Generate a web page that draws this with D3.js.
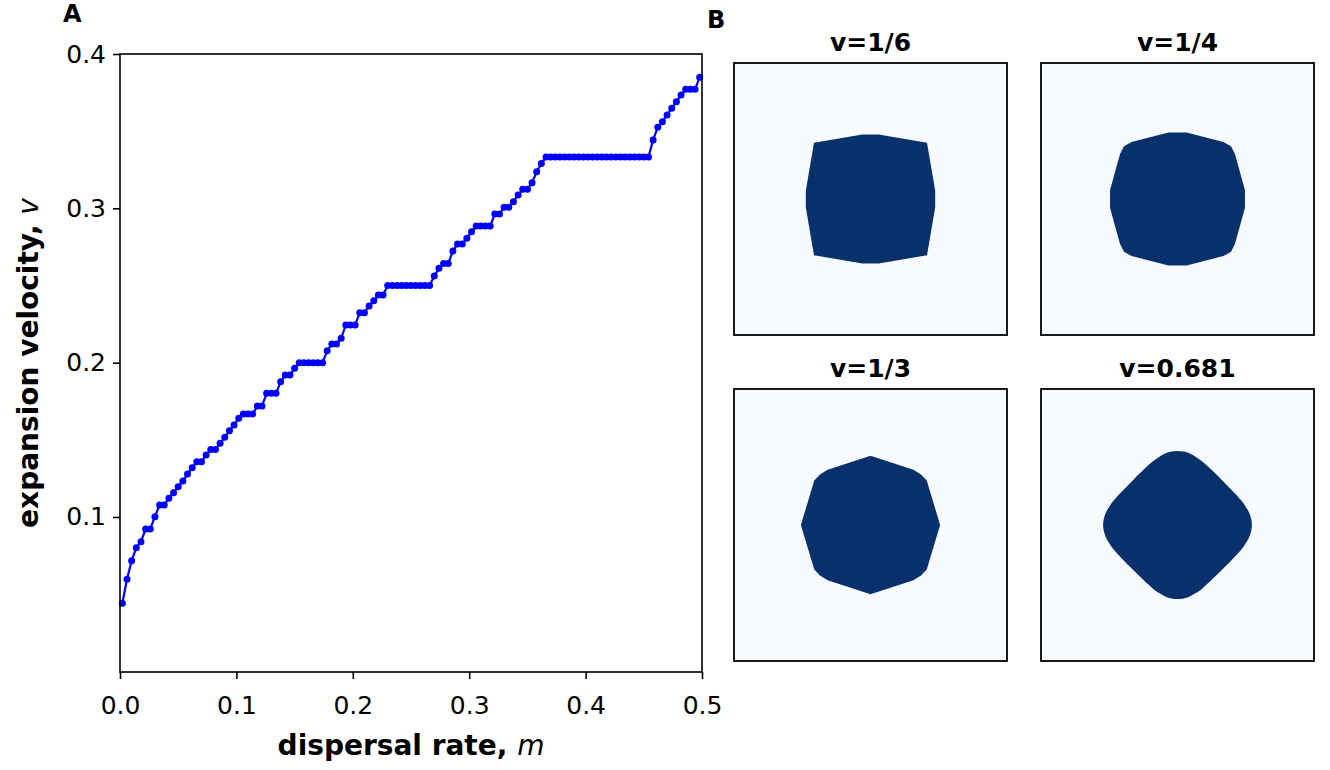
<!DOCTYPE html>
<html>
<head>
<meta charset="utf-8">
<script src="https://cdn.jsdelivr.net/npm/d3@7"></script>
<style>
  body { margin: 0; background: #fff; }
  svg { display: block; font-family: "DejaVu Sans", sans-serif; }
</style>
</head>
<body>
<svg id="chart" width="1330" height="770"></svg>
<script>
// ---------------- data ----------------
const dispersalRate = [0.002,0.006,0.010,0.014,0.018,0.022,0.026,0.030,0.034,0.038,0.042,0.046,0.050,0.054,0.058,0.062,0.066,0.070,0.074,0.078,0.082,0.086,0.090,0.094,0.098,0.102,0.106,0.110,0.114,0.118,0.122,0.126,0.130,0.134,0.138,0.142,0.146,0.150,0.154,0.158,0.162,0.166,0.170,0.174,0.178,0.182,0.186,0.190,0.194,0.198,0.202,0.206,0.210,0.214,0.218,0.222,0.226,0.230,0.234,0.238,0.242,0.246,0.250,0.254,0.258,0.262,0.266,0.270,0.274,0.278,0.282,0.286,0.290,0.294,0.298,0.302,0.306,0.310,0.314,0.318,0.322,0.326,0.330,0.334,0.338,0.342,0.346,0.350,0.354,0.358,0.362,0.366,0.370,0.374,0.378,0.382,0.386,0.390,0.394,0.398,0.402,0.406,0.410,0.414,0.418,0.422,0.426,0.430,0.434,0.438,0.442,0.446,0.450,0.454,0.458,0.462,0.466,0.470,0.474,0.478,0.482,0.486,0.490,0.494,0.498];
const velocity = [0.0441,0.0596,0.0717,0.0801,0.0840,0.0922,0.0922,0.1002,0.1078,0.1078,
  0.1121,0.1157,0.1196,0.1233,0.1278,0.1319,0.1358,0.1358,0.1402,0.1438,
  0.1438,0.1477,0.1516,0.1559,0.1596,0.1640,0.1667,0.1667,0.1667,0.1719,
  0.1719,0.1801,0.1801,0.1801,0.1876,0.1920,0.1920,0.1963,0.2000,0.2000,
  0.2000,0.2000,0.2000,0.2000,0.2077,0.2121,0.2121,0.2158,0.2244,0.2244,
  0.2244,0.2324,0.2324,0.2367,0.2401,0.2438,0.2438,0.2500,0.2500,0.2500,
  0.2500,0.2500,0.2500,0.2500,0.2500,0.2500,0.2500,0.2561,0.2611,0.2643,
  0.2643,0.2723,0.2769,0.2769,0.2806,0.2848,0.2885,0.2885,0.2885,0.2885,
  0.2963,0.2963,0.3007,0.3007,0.3043,0.3086,0.3123,0.3123,0.3166,0.3237,
  0.3290,0.3333,0.3333,0.3333,0.3333,0.3333,0.3333,0.3333,0.3333,0.3333,
  0.3333,0.3333,0.3333,0.3333,0.3333,0.3333,0.3333,0.3333,0.3333,0.3333,
  0.3333,0.3333,0.3333,0.3333,0.3443,0.3525,0.3561,0.3605,0.3648,0.3691,
  0.3734,0.3771,0.3771,0.3771,0.3849];
const xTicks = [0.0,0.1,0.2,0.3,0.4,0.5];
const yTicks = [0.1,0.2,0.3,0.4];

// Panel B: front shapes, vertices in box units (box spans -1..1)
const panelTitles = ["v=1/6","v=1/4","v=1/3","v=0.681"];
const shapeV16 = [[-0.414,-0.414],[-0.06,-0.474],[0.06,-0.474],[0.414,-0.414],[0.474,-0.06],[0.474,0.06],[0.414,0.414],[0.06,0.474],[-0.06,0.474],[-0.414,0.414],[-0.474,0.06],[-0.474,-0.06]];
const shapeV14 = [[-0.067,-0.489],[0.067,-0.489],[0.336,-0.42],[0.392,-0.388],[0.421,-0.33],[0.494,-0.067],[0.494,0.067],[0.421,0.33],[0.392,0.388],[0.336,0.42],[0.067,0.489],[-0.067,0.489],[-0.336,0.42],[-0.392,0.388],[-0.421,0.33],[-0.494,0.067],[-0.494,-0.067],[-0.421,-0.33],[-0.392,-0.388],[-0.336,-0.42]];
const shapeV13 = [[0,-0.51],[0.314,-0.406],[0.37,-0.372],[0.412,-0.328],[0.51,0],[0.412,0.328],[0.37,0.372],[0.314,0.406],[0,0.51],[-0.314,0.406],[-0.37,0.372],[-0.412,0.328],[-0.51,0],[-0.412,-0.328],[-0.37,-0.372],[-0.314,-0.406]];
const shapeV0681 = [
  [0,-0.545],[0.045,-0.54],[0.09,-0.525],[0.135,-0.5],[0.18,-0.468],[0.328,-0.328],[0.468,-0.18],[0.5,-0.135],[0.525,-0.09],[0.54,-0.045],
  [0.545,0],[0.54,0.045],[0.525,0.09],[0.5,0.135],[0.468,0.18],[0.328,0.328],[0.18,0.468],[0.135,0.5],[0.09,0.525],[0.045,0.54],
  [0,0.545],[-0.045,0.54],[-0.09,0.525],[-0.135,0.5],[-0.18,0.468],[-0.328,0.328],[-0.468,0.18],[-0.5,0.135],[-0.525,0.09],[-0.54,0.045],
  [-0.545,0],[-0.54,-0.045],[-0.525,-0.09],[-0.5,-0.135],[-0.468,-0.18],[-0.328,-0.328],[-0.18,-0.468],[-0.135,-0.5],[-0.09,-0.525],[-0.045,-0.54]];
const shapeSmooth = [false,false,false,true];

// ---------------- panel A ----------------
const svg = d3.select("#chart");
const A = {left:120, right:702, top:54, bottom:672};
const x = d3.scaleLinear().domain([0,0.5]).range([A.left, A.right]);
const y = d3.scaleLinear().domain([0,0.4]).range([671.3, A.top]);

const gA = svg.append("g");
const xAxis = gA.append("g").attr("transform",`translate(0,${A.bottom})`)
  .call(d3.axisBottom(x).tickValues(xTicks).tickFormat(d3.format(".1f")).tickSize(7).tickPadding(12));
const yAxis = gA.append("g").attr("transform",`translate(${A.left},0)`)
  .call(d3.axisLeft(y).tickValues(yTicks).tickFormat(d3.format(".1f")).tickSize(7).tickPadding(7));
[xAxis,yAxis].forEach(ax=>{
  ax.select(".domain").remove();
  ax.selectAll(".tick line").attr("stroke","#000").attr("stroke-width",1.6);
  ax.selectAll(".tick text").attr("font-size",25).attr("fill","#000")
    .attr("font-family","DejaVu Sans, sans-serif");
});
xAxis.selectAll(".tick text").attr("dy","0.9em");

const line = d3.line().x((d,i)=>x(dispersalRate[i])).y(d=>y(d));
gA.append("path").datum(velocity).attr("d",line)
  .attr("fill","none").attr("stroke","#0000ff").attr("stroke-width",2.2);
gA.selectAll("circle.pt").data(velocity).join("circle").attr("class","pt")
  .attr("cx",(d,i)=>x(dispersalRate[i])).attr("cy",d=>y(d)).attr("r",3.5)
  .attr("fill","#0000ff");

gA.append("rect").attr("x",A.left).attr("y",A.top)
  .attr("width",A.right-A.left).attr("height",A.bottom-A.top)
  .attr("fill","none").attr("stroke","#000").attr("stroke-width",1.6);

// axis labels
const xl = gA.append("text").attr("x",(A.left+A.right)/2).attr("y",755)
  .attr("text-anchor","middle").attr("font-size",28).attr("font-weight","bold");
xl.append("tspan").text("dispersal rate, ");
xl.append("tspan").attr("font-style","italic").attr("font-weight","normal").text("m");

const yl = gA.append("text").attr("transform",`translate(38,${(A.top+A.bottom)/2}) rotate(-90)`)
  .attr("text-anchor","middle").attr("font-size",28).attr("font-weight","bold");
yl.append("tspan").text("expansion velocity, ");
yl.append("tspan").attr("font-style","italic").attr("font-weight","normal").text("v");

svg.append("text").attr("x",63).attr("y",22).attr("font-size",24).attr("font-weight","bold").text("A");
svg.append("text").attr("x",707).attr("y",28).attr("font-size",24).attr("font-weight","bold").text("B");

// ---------------- panel B ----------------
const boxX = [[734,1007],[1041,1314]];
const boxY = [[63,335],[389,661]];
const shapes = [shapeV16, shapeV14, shapeV13, shapeV0681];
shapes.forEach((shape,k)=>{
  const col = k%2, row = Math.floor(k/2);
  const sx = d3.scaleLinear().domain([-1,1]).range(boxX[col]);
  const sy = d3.scaleLinear().domain([-1,1]).range(boxY[row]);
  const g = svg.append("g");
  g.append("rect").attr("x",boxX[col][0]).attr("y",boxY[row][0])
    .attr("width",boxX[col][1]-boxX[col][0]).attr("height",boxY[row][1]-boxY[row][0])
    .attr("fill","#f7fbff");
  const gen = d3.line().x(d=>sx(d[0])).y(d=>sy(d[1]))
    .curve(shapeSmooth[k] ? d3.curveCatmullRomClosed.alpha(0.5) : d3.curveLinearClosed);
  g.append("path").attr("d",gen(shape)).attr("fill","#08306b");
  g.append("rect").attr("x",boxX[col][0]).attr("y",boxY[row][0])
    .attr("width",boxX[col][1]-boxX[col][0]).attr("height",boxY[row][1]-boxY[row][0])
    .attr("fill","none").attr("stroke","#000").attr("stroke-width",1.8);
  g.append("text").attr("x",(boxX[col][0]+boxX[col][1])/2).attr("y",boxY[row][0]-12)
    .attr("text-anchor","middle").attr("font-size",25).attr("font-weight","bold")
    .text(panelTitles[k]);
});
</script>
</body>
</html>
